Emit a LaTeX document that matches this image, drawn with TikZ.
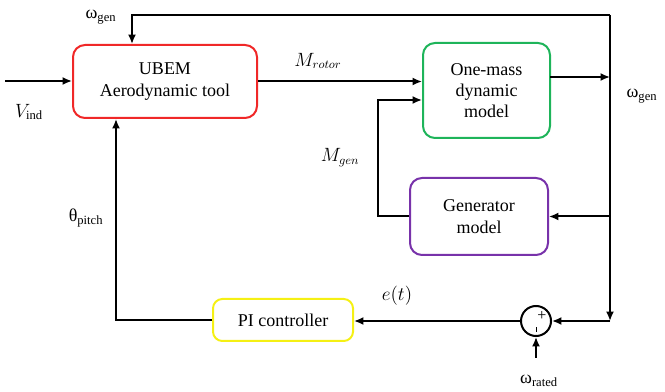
\documentclass[tikz,border=0pt]{standalone}
\usepackage{fontspec}
\setmainfont{Liberation Serif}
\usetikzlibrary{arrows.meta}
\begin{document}
\begin{tikzpicture}[x=0.75pt,y=-0.75pt,
  every node/.style={font=\fontsize{13.5}{16}\selectfont},
  blk/.style={draw,line width=1.5pt,rounded corners=9pt,align=center,inner sep=0pt},
  arr/.style={line width=1.5pt,-{Latex[length=7pt,width=6pt]}},
  lbl/.style={inner sep=1pt}]
\useasboundingbox (0,0) rectangle (665,392);
\definecolor{bred}{RGB}{240,40,40}
\definecolor{bgreen}{RGB}{30,180,90}
\definecolor{bpurple}{RGB}{120,50,170}
\definecolor{byellow}{RGB}{245,240,20}
\node[blk,draw=bred,minimum width=138pt,minimum height=54.75pt] (ubem) at (165,81.5) {UBEM\\Aerodynamic tool};
\node[blk,draw=bgreen,minimum width=95.25pt,minimum height=71.25pt] (om) at (486.5,90.5) {One-mass\\dynamic\\model};
\node[blk,draw=bpurple,minimum width=103.5pt,minimum height=57.75pt] (gen) at (479,216.5) {Generator\\model};
\node[blk,draw=byellow,rounded corners=7pt,minimum width=105pt,minimum height=31.5pt] (pi) at (283,320) {PI controller};
\node[draw,circle,line width=1.5pt,minimum size=22.5pt,inner sep=0pt] (sum) at (536,321) {};
\coordinate (tr) at (610,15);
\coordinate (tl) at (132,15);
\coordinate (br) at (610,321);
\coordinate (mg) at (378,100);
\coordinate (pl) at (116,320);
\coordinate (vin) at (5,81);
\coordinate (wr) at (536,358);
\coordinate (oo) at (550,77);
% connectors
\draw[arr] (vin) -- (vin -| ubem.west);
\draw[arr] (ubem.east) -- (ubem.east -| om.west);
\draw[arr] (gen.west) -| (mg) -- (mg -| om.west);
\draw[arr] (oo) -- (oo -| tr);
\draw[arr] (tr) -- (tl) -- (tl |- ubem.north);
\draw[arr] (tr) -- (br);
\draw[arr] (br) -- (sum.east);
\draw[arr] (tr |- gen.east) -- (gen.east);
\draw[arr] (sum.west) -- (sum.west -| pi.east);
\draw[arr] (pi.west) -- (pl) -- (pl |- ubem.south);
\draw[arr] (wr) -- (sum.south);
% sum signs
\node[inner sep=0pt,font=\fontsize{12}{12}\selectfont] (plus) at (542,316) {+};
\draw[line width=0.9pt] (536.5,327.5) -- (536.5,332.5);
% labels
\node[lbl] (l1) at (101,17) {ω\textsubscript{gen}};
\node[lbl] (l2) at (318,61) {$M_{rotor}$};
\node[lbl] (l3) at (642,96) {ω\textsubscript{gen}};
\node[lbl] (l4) at (340,158) {$M_{gen}$};
\node[lbl] (l5) at (86,218) {θ\textsubscript{pitch}};
\node[lbl] (l6) at (397,296) {$e(t)$};
\node[lbl] (l7) at (539,381) {ω\textsubscript{rated}};
\node[lbl] (l8) at (29,112) {$V_{\mathrm{ind}}$};
\end{tikzpicture}
\end{document}
